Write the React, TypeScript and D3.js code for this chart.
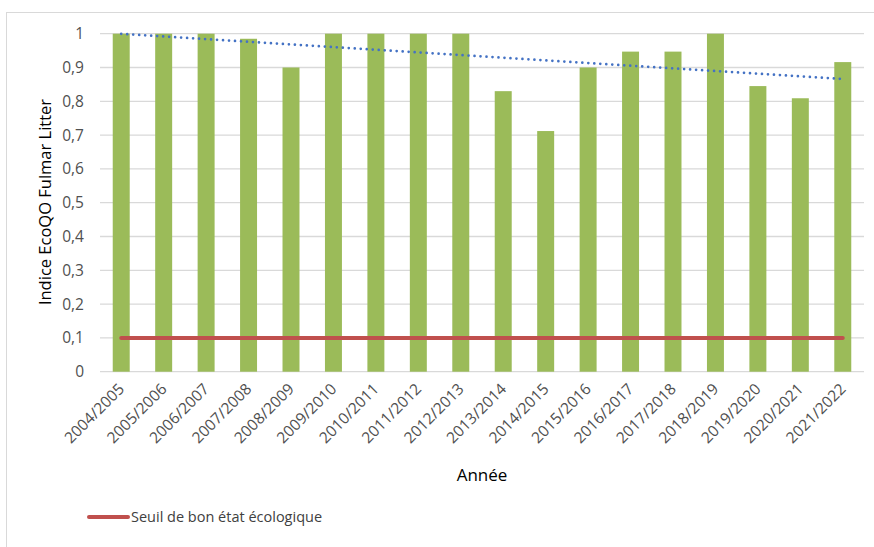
import React from "react";
import * as d3 from "d3";

// Fulmar litter EcoQO index per sampling season
const seasons = [
  "2004/2005", "2005/2006", "2006/2007", "2007/2008", "2008/2009", "2009/2010",
  "2010/2011", "2011/2012", "2012/2013", "2013/2014", "2014/2015", "2015/2016",
  "2016/2017", "2017/2018", "2018/2019", "2019/2020", "2020/2021", "2021/2022",
];
const indexValues = [
  1, 1, 1, 0.985, 0.9, 1, 1, 1, 1, 0.83, 0.712, 0.9, 0.947, 0.947, 1, 0.845, 0.809, 0.916,
];
// Good environmental status threshold
const thresholdValue = 0.1;
const yTicks = [0, 0.1, 0.2, 0.3, 0.4, 0.5, 0.6, 0.7, 0.8, 0.9, 1];

const W = 874;
const H = 547;
const FONT = "'Open Sans', 'Noto Sans', sans-serif";

// Ordinary least-squares linear trend over the season index
function linearTrend(values: number[]) {
  const xs = values.map((_, i) => i + 1);
  const mx = d3.mean(xs) as number;
  const my = d3.mean(values) as number;
  let sxy = 0;
  let sxx = 0;
  xs.forEach((x, i) => {
    sxy += (x - mx) * (values[i] - my);
    sxx += (x - mx) * (x - mx);
  });
  const slope = sxy / sxx;
  const intercept = my - slope * mx;
  return values.map((_, i) => intercept + slope * (i + 1));
}

export default function App() {
  const x = d3
    .scaleBand<string>()
    .domain(seasons)
    .range([100, 864])
    .paddingInner(0.6)
    .paddingOuter(0.3);
  const y = d3.scaleLinear().domain([0, 1]).range([371.7, 33.7]);
  const cx = (s: string) => (x(s) as number) + x.bandwidth() / 2;

  const trend = linearTrend(indexValues);
  const trendPath =
    d3
      .line<number>()
      .x((_, i) => cx(seasons[i]))
      .y((v) => y(v))(trend) || "";

  const fmt = (v: number) => (v === 0 || v === 1 ? String(v) : v.toFixed(1).replace(".", ","));

  return (
    <svg
      width={W}
      height={H}
      style={{ position: "absolute", left: 0, top: 0, background: "#fff" }}
      fontFamily={FONT}
    >
      <rect x={6.5} y={12.5} width={W} height={H} fill="#fff" stroke="#D9D9D9" strokeWidth={1} />

      {/* horizontal gridlines */}
      {yTicks.map((t) => (
        <line key={t} x1={100} x2={864} y1={y(t)} y2={y(t)} stroke="#D9D9D9" strokeWidth={1.3} />
      ))}

      {/* y tick labels */}
      {yTicks.map((t) => (
        <text key={t} x={84} y={y(t)} dy="0.36em" textAnchor="end" fontSize={15.5} fill="#505050">
          {fmt(t)}
        </text>
      ))}

      {/* bars */}
      {seasons.map((s, i) => (
        <rect
          key={s}
          x={x(s)}
          y={y(indexValues[i])}
          width={x.bandwidth()}
          height={y(0) - y(indexValues[i])}
          fill="#9BBB59"
        />
      ))}

      {/* threshold line */}
      <line
        x1={cx(seasons[0])}
        x2={cx(seasons[seasons.length - 1])}
        y1={y(thresholdValue)}
        y2={y(thresholdValue)}
        stroke="#C0504D"
        strokeWidth={4}
        strokeLinecap="round"
      />

      {/* linear trend */}
      <path
        d={trendPath}
        fill="none"
        stroke="#4472C4"
        strokeWidth={2.7}
        strokeDasharray="0 6"
        strokeLinecap="round"
      />

      {/* x tick labels */}
      {seasons.map((s) => (
        <text
          key={s}
          transform={`translate(${cx(s) + 4},${390}) rotate(-45)`}
          textAnchor="end"
          fontSize={15.5}
          fill="#505050"
        >
          {s}
        </text>
      ))}

      {/* axis titles */}
      <text x={482} y={481} textAnchor="middle" fontSize={17} fill="#000">
        Année
      </text>
      <text
        transform={`translate(51,202) rotate(-90)`}
        textAnchor="middle"
        fontSize={16.5}
        fill="#000"
      >
        Indice EcoQO Fulmar Litter
      </text>

      {/* legend */}
      <line x1={89} x2={128} y1={517} y2={517} stroke="#C0504D" strokeWidth={4} strokeLinecap="round" />
      <text x={131} y={522} fontSize={14.5} fill="#404040">
        Seuil de bon état écologique
      </text>
    </svg>
  );
}
